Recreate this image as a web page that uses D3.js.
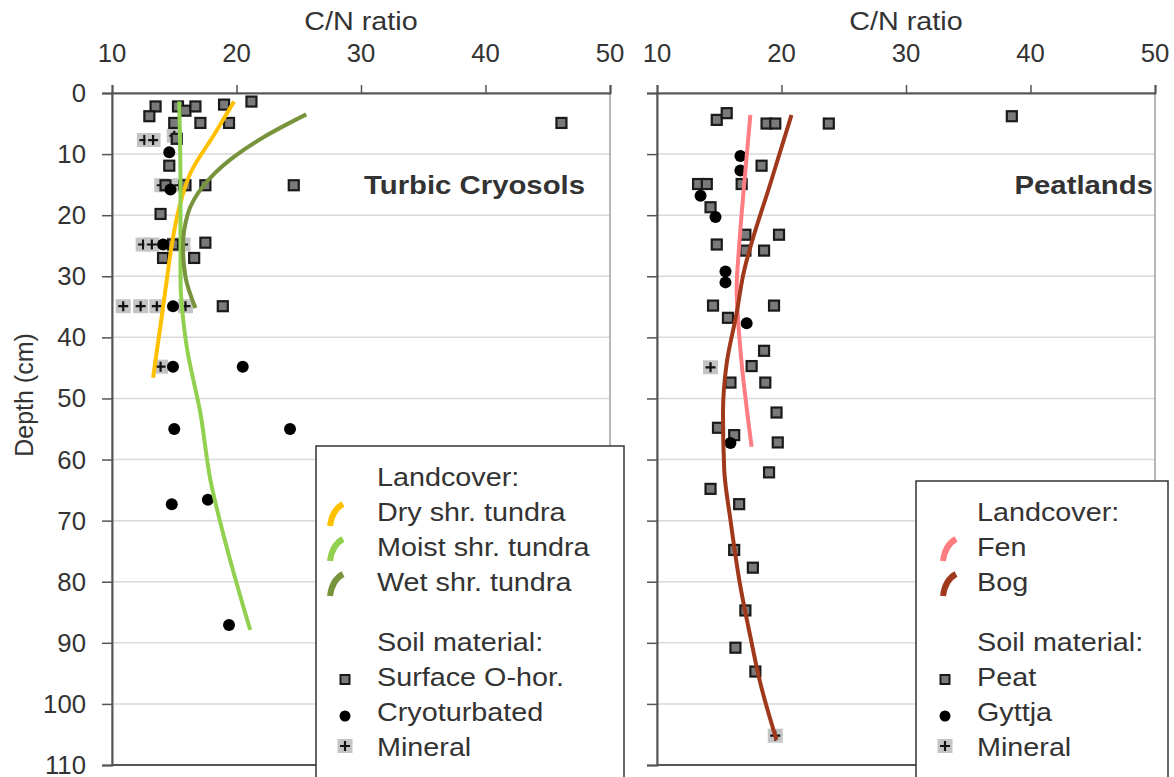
<!DOCTYPE html>
<html>
<head>
<meta charset="utf-8">
<style>
  body { margin: 0; background: #fff; }
  svg { display: block; }
</style>
</head>
<body>
<svg id="chart"></svg>
<script src="https://d3js.org/d3.v7.min.js"></script>
<script>
// ---- data: [C/N ratio, depth cm] ----
var xTicks = [10, 20, 30, 40, 50];
var depthTicks = [0, 10, 20, 30, 40, 50, 60, 70, 80, 90, 100, 110];

// Turbic Cryosols
var tcSurface = [[13.5,2.2],[13.0,3.8],[15.3,2.2],[15.9,2.9],[16.7,2.2],[19.0,1.9],[21.2,1.4],
  [15.0,4.9],[17.1,4.9],[19.4,4.9],[46.1,4.9],[15.2,7.5],[14.6,11.9],[14.3,15.1],[15.9,15.1],
  [17.5,15.1],[24.6,15.1],[13.9,19.8],[14.9,24.8],[17.5,24.5],[14.1,27.0],[16.6,27.0],[18.9,34.9]];
var tcCryo = [[14.6,9.7],[14.7,15.8],[14.1,24.8],[14.9,34.9],[14.9,44.8],[20.5,44.8],[15.0,55.0],
  [24.3,55.0],[14.8,67.3],[17.7,66.6],[19.4,87.1]];
var tcMineral = [[12.6,7.7],[13.3,7.7],[15.0,7.0],[14.0,15.1],[15.4,15.1],[12.5,24.8],[13.2,24.8],
  [15.0,24.8],[15.7,24.8],[10.9,34.9],[12.3,34.9],[13.6,34.9],[15.9,34.9],[13.9,44.8]];
var dryLine = [[19.8,1.4],[18.3,6.5],[16.3,13.1],[15.3,19.6],[14.7,26.2],[14.4,30.6],[13.9,38.0],[13.3,46.6]];
var moistLine = [[15.4,1.4],[15.5,15.0],[15.5,30.0],[16.0,41.5],[17.1,52.4],[17.9,63.3],[19.3,75.0],[21.1,87.9]];
var wetLine = [[25.6,3.5],[22.2,7.2],[19.5,10.9],[17.3,15.3],[16.1,19.7],[15.7,25.2],[15.9,30.1],[16.7,35.2]];

// Peatlands
var ptPeat = [[14.8,4.4],[15.6,3.3],[18.8,5.0],[19.5,5.0],[23.8,5.0],[38.5,3.8],[18.4,11.9],[13.3,14.9],
  [14.0,14.9],[16.8,14.9],[14.3,18.7],[17.1,23.2],[19.8,23.2],[14.8,24.8],[17.1,25.8],[18.6,25.8],
  [14.5,34.8],[19.4,34.8],[15.7,36.8],[18.6,42.2],[17.6,44.7],[15.9,47.4],[18.7,47.4],[19.6,52.3],
  [14.9,54.8],[16.2,56.0],[19.7,57.2],[19.0,62.1],[14.3,64.8],[16.6,67.3],[16.2,74.8],[17.7,77.7],
  [17.1,84.7],[16.3,90.8],[17.9,94.7]];
var ptGyttja = [[16.7,10.3],[16.7,12.7],[13.5,16.8],[14.7,20.3],[15.5,29.2],[15.5,31.0],[17.2,37.7],[15.9,57.3]];
var ptMineral = [[14.3,44.9],[19.5,105.2]];
var fenLine = [[17.5,3.6],[17.0,15.0],[16.6,25.0],[16.4,32.0],[16.7,42.0],[17.6,57.9]];
var bogLine = [[20.8,3.6],[19.2,14.2],[16.9,30.0],[16.4,36.0],[15.6,44.2],[15.3,52.4],[15.4,61.7],
  [15.9,69.9],[16.7,80.8],[17.5,89.0],[18.3,96.6],[19.6,105.9]];

var tcLegendCover = ['Dry shr. tundra', 'Moist shr. tundra', 'Wet shr. tundra'];
var tcLegendSoil = ['Surface O-hor.', 'Cryoturbated', 'Mineral'];
var ptLegendCover = ['Fen', 'Bog'];
var ptLegendSoil = ['Peat', 'Gyttja', 'Mineral'];

// ---- layout ----
var W = 1174, H = 777;
var FONT = 'Liberation Sans, Arial, sans-serif';
var SX = 1.15; // the picture is a little wider than tall
var TOP = 93, BOTTOM = 765;

var svg = d3.select('#chart').attr('width', W).attr('height', H);

function label(g, x, y, txt, size, anchor, sx, weight) {
	return g.append('text')
		.attr('transform', 'translate(' + x + ',' + y + ') scale(' + sx + ',1)')
		.attr('text-anchor', anchor)
		.attr('font-family', FONT)
		.attr('font-size', size)
		.attr('font-weight', weight || 'normal')
		.attr('fill', '#333')
		.text(txt);
}

function drawSquares(g, x, y, pts) {
	g.selectAll(null).data(pts).enter().append('rect')
		.attr('x', function(d){ return x(d[0]) - 5; })
		.attr('y', function(d){ return y(d[1]) - 5; })
		.attr('width', 10).attr('height', 10)
		.style('fill', '#7a7a7a').style('stroke', '#1a1a1a').style('stroke-width', 2.2);
}

function drawCircles(g, x, y, pts) {
	g.selectAll(null).data(pts).enter().append('circle')
		.attr('cx', function(d){ return x(d[0]); })
		.attr('cy', function(d){ return y(d[1]); })
		.attr('r', 6)
		.style('fill', '#000');
}

function drawMineral(g, cx, cy) {
	g.append('rect').attr('x', cx - 7.5).attr('y', cy - 7).attr('width', 15).attr('height', 14)
		.style('fill', '#c4c4c4');
	g.append('path').attr('d', 'M' + (cx - 5) + ',' + cy + 'H' + (cx + 5) + 'M' + cx + ',' + (cy - 5) + 'V' + (cy + 5))
		.style('stroke', '#111').style('stroke-width', 2.2);
}

function drawMinerals(g, x, y, pts) {
	pts.forEach(function(d){ drawMineral(g, x(d[0]), y(d[1])); });
}

function drawTrend(g, x, y, pts, color) {
	var line = d3.line()
		.x(function(d){ return x(d[0]); })
		.y(function(d){ return y(d[1]); })
		.curve(d3.curveMonotoneY);
	g.append('path').attr('d', line(pts))
		.style('fill', 'none').style('stroke', color).style('stroke-width', 4)
		.style('stroke-linecap', 'butt');
}

function legendStroke(g, x, base, color) {
	// small curved swatch like the Excel legend
	var x0 = x, y0 = base + 5, x1 = x + 13, y1 = base - 17;
	g.append('path')
		.attr('d', 'M' + x0 + ',' + y0 + 'Q' + (x0 + 2) + ',' + (y1 + 6) + ' ' + x1 + ',' + y1)
		.style('fill', 'none').style('stroke', color).style('stroke-width', 6);
}

function drawPanel(opt) {
	var x = d3.scaleLinear().domain([10, 50]).range([opt.left, opt.right]);
	var y = d3.scaleLinear().domain([0, 110]).range([TOP, BOTTOM]);
	var g = svg.append('g');

	// gridlines
	g.selectAll(null).data(depthTicks.slice(1, -1)).enter().append('line')
		.attr('x1', opt.left).attr('x2', opt.right)
		.attr('y1', function(d){ return y(d); }).attr('y2', function(d){ return y(d); })
		.style('stroke', '#d9d9d9').style('stroke-width', 1.5);

	// plot area border
	g.append('rect').attr('x', opt.left).attr('y', TOP)
		.attr('width', opt.right - opt.left).attr('height', BOTTOM - TOP)
		.style('fill', 'none').style('stroke', '#a0a0a0').style('stroke-width', 1.5);
	g.append('line').attr('x1', opt.left).attr('x2', opt.right).attr('y1', BOTTOM).attr('y2', BOTTOM)
		.style('stroke', '#555').style('stroke-width', 2);

	// top axis
	var xAxis = g.append('g').attr('transform', 'translate(0,' + TOP + ')')
		.call(d3.axisTop(x).tickValues(xTicks).tickSize(8).tickPadding(23).tickFormat(''));
	var yAxis = g.append('g').attr('transform', 'translate(' + opt.left + ',0)')
		.call(d3.axisLeft(y).tickValues(depthTicks).tickSize(10).tickFormat(''));
	[xAxis, yAxis].forEach(function(a){
		a.select('.domain').style('stroke', '#555').style('stroke-width', 2);
		a.selectAll('.tick line').style('stroke', '#555').style('stroke-width', 1.5);
	});

	xTicks.forEach(function(t){ label(g, x(t), TOP - 31, String(t), 25, 'middle', 1.03); });
	if (opt.depthLabels) {
		depthTicks.forEach(function(t){ label(g, opt.left - 26, y(t) + 9, String(t), 25, 'end', 1.03); });
	}
	label(g, (opt.left + opt.right) / 2, 30, 'C/N ratio', 25, 'middle', SX);
	label(g, opt.titleX, 194, opt.title, 25.5, 'end', SX, 'bold');

	// points then trend lines
	drawMinerals(g, x, y, opt.mineral);
	drawSquares(g, x, y, opt.squares);
	drawCircles(g, x, y, opt.circles);
	opt.lines.forEach(function(l){ drawTrend(g, x, y, l.pts, l.color); });

	// legend
	var L = opt.legend;
	var lg = svg.append('g');
	lg.append('rect').attr('x', L.x).attr('y', L.y).attr('width', L.w).attr('height', H - L.y + 10)
		.style('fill', '#fff').style('stroke', '#333').style('stroke-width', 1.5);
	var base = L.y + 40;
	label(lg, L.tx, base, 'Landcover:', 25, 'start', SX);
	opt.lines.forEach(function(l){
		base += 35;
		legendStroke(lg, L.tx + L.sw, base, l.color);
		label(lg, L.tx, base, l.name, 25, 'start', SX);
	});
	base += 60;
	label(lg, L.tx, base, 'Soil material:', 25, 'start', SX);
	var sym = L.tx - 32;
	base += 35;
	lg.append('rect').attr('x', sym - 4.5).attr('y', base - 11).attr('width', 9).attr('height', 9)
		.style('fill', '#7a7a7a').style('stroke', '#1a1a1a').style('stroke-width', 2);
	label(lg, L.tx, base, L.soil[0], 25, 'start', SX);
	base += 35;
	lg.append('circle').attr('cx', sym).attr('cy', base - 5).attr('r', 5.5).style('fill', '#000');
	label(lg, L.tx, base, L.soil[1], 25, 'start', SX);
	base += 35;
	drawMineral(lg, sym, base - 10);
	label(lg, L.tx, base, L.soil[2], 25, 'start', SX);
}

drawPanel({
	left: 112, right: 610, depthLabels: true, title: 'Turbic Cryosols', titleX: 585,
	squares: tcSurface, circles: tcCryo, mineral: tcMineral,
	lines: [
		{ name: tcLegendCover[0], pts: dryLine, color: '#ffc000' },
		{ name: tcLegendCover[1], pts: moistLine, color: '#92d050' },
		{ name: tcLegendCover[2], pts: wetLine, color: '#77933c' }
	],
	legend: { x: 316, y: 446, w: 308, tx: 377, sw: -47, soil: tcLegendSoil }
});

drawPanel({
	left: 657, right: 1155, depthLabels: false, title: 'Peatlands', titleX: 1153,
	squares: ptPeat, circles: ptGyttja, mineral: ptMineral,
	lines: [
		{ name: ptLegendCover[0], pts: fenLine, color: '#ff7c80' },
		{ name: ptLegendCover[1], pts: bogLine, color: '#a0391c' }
	],
	legend: { x: 916, y: 481, w: 252, tx: 977, sw: -34, soil: ptLegendSoil }
});

svg.append('text')
	.attr('transform', 'translate(33,' + 395 + ') rotate(-90)')
	.attr('text-anchor', 'middle')
	.attr('font-family', FONT).attr('font-size', 25).attr('fill', '#333')
	.text('Depth (cm)');
</script>
</body>
</html>
